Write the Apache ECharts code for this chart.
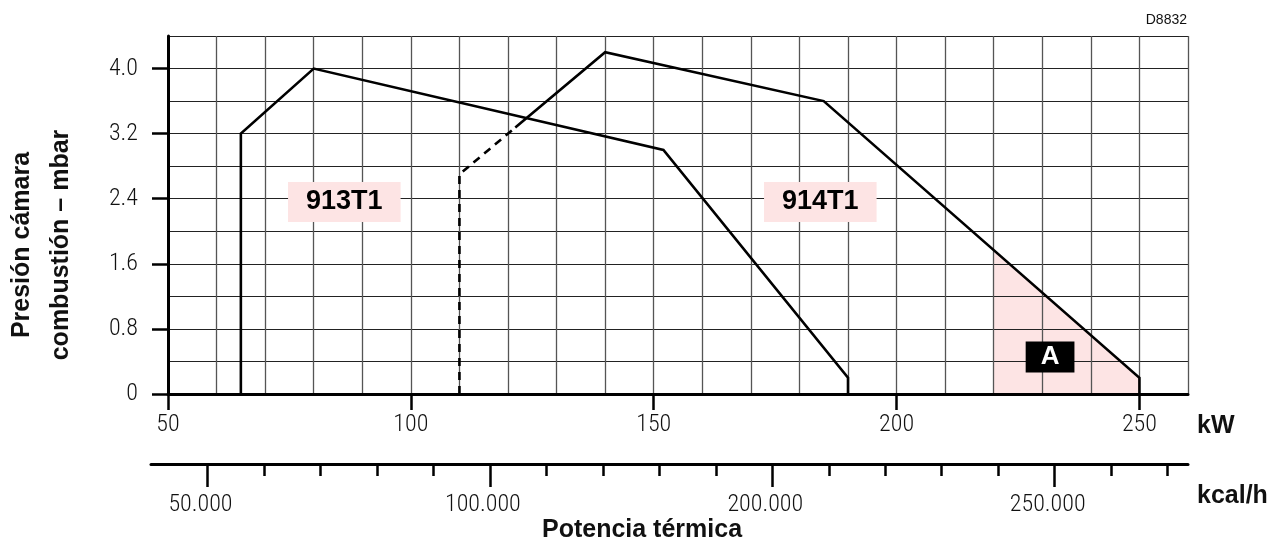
<!DOCTYPE html>
<html><head><meta charset="utf-8">
<script src="https://cdn.jsdelivr.net/npm/echarts@6/dist/echarts.min.js"></script>
<style>html,body{margin:0;padding:0;background:#fff}#c{width:1275px;height:544px}</style>
</head><body><div id="c"></div>
<script>
// ---- data ----
const kwTicks = [50, 100, 150, 200, 250];
const mbarTicks = [0, 0.8, 1.6, 2.4, 3.2, 4.0];
const kcalMajor = [50000, 100000, 150000, 200000];
const kcalMajorLabels = ['50.000', '100.000', '200.000', '250.000'];
const kcalMinor = [60000, 70000, 80000, 90000, 110000, 120000, 130000, 140000, 160000, 170000, 180000, 190000, 210000, 220000];
const curve913 = [[65, 0], [65, 3.2], [80, 4.0], [152, 3.0], [190, 0.2], [190, 0]];
const curve914Dashed = [[110, 0], [110, 2.7], [121.5, 3.275]];
const curve914 = [[121.5, 3.275], [140, 4.2], [185, 3.6], [250, 0.2], [250, 0]];
const regionA = [[220, 1.77], [250, 0.2]];
const modelLabels = [['913T1', 86.3, 2.36], ['914T1', 184.3, 2.36]];
const regionLabel = [['A', 231.6, 0.455]];

const NARROW = "'Roboto Condensed', 'DejaVu Sans Condensed', sans-serif";
const SANS = "'Liberation Sans', Arial, sans-serif";

const chart = echarts.init(document.getElementById('c'), null, {renderer: 'canvas'});
chart.setOption({
  animation: false,
  backgroundColor: '#fff',
  grid: [
    {left: 168, right: 87, top: 36, bottom: 150},
    {left: 151, right: 87, top: 440, bottom: 80}
  ],
  xAxis: [
    {gridIndex: 0, type: 'value', position: 'bottom', offset: 0, min: 50, max: 260, interval: 10,
     axisLine: {show: true, onZero: false, lineStyle: {color: '#000', width: 3}},
     axisTick: {show: false}, axisLabel: {show: false},
     splitLine: {show: true, lineStyle: {color: '#555', width: 1.3}}},
    {gridIndex: 0, type: 'value', position: 'bottom', offset: 0, min: 50, max: 260,
     axisLine: {show: false, onZero: false},
     axisTick: {show: true, customValues: kwTicks, length: 16, lineStyle: {color: '#000', width: 2.5}},
     axisLabel: {show: true, customValues: kwTicks, margin: 19, fontFamily: NARROW, fontWeight: 300, fontSize: 24, color: '#111'},
     splitLine: {show: false}},
    {gridIndex: 1, type: 'value', position: 'bottom', offset: 0, min: 40000, max: 223600,
     axisLine: {show: true, onZero: false, lineStyle: {color: '#000', width: 3}},
     axisTick: {show: true, customValues: kcalMinor, length: 12, lineStyle: {color: '#000', width: 2.5}},
     axisLabel: {show: false}, splitLine: {show: false}},
    {gridIndex: 1, type: 'value', position: 'bottom', offset: 0, min: 40000, max: 223600,
     axisLine: {show: false, onZero: false},
     axisTick: {show: true, customValues: kcalMajor, length: 23, lineStyle: {color: '#000', width: 2.5}},
     axisLabel: {show: true, customValues: kcalMajor, margin: 29, padding: [0, 14, 0, 0],
       fontFamily: NARROW, fontWeight: 300, fontSize: 24, color: '#111',
       formatter: v => kcalMajorLabels[kcalMajor.indexOf(v)] || ''},
     splitLine: {show: false}}
  ],
  yAxis: [
    {gridIndex: 0, type: 'value', position: 'left', offset: 0, min: 0, max: 4.4, interval: 0.4,
     axisLine: {show: true, onZero: false, lineStyle: {color: '#000', width: 3}},
     axisTick: {show: false}, axisLabel: {show: false},
     splitLine: {show: true, lineStyle: {color: '#222', width: 1.1}}},
    {gridIndex: 0, type: 'value', position: 'left', offset: 0, min: 0, max: 4.4,
     axisLine: {show: false, onZero: false},
     axisTick: {show: true, customValues: mbarTicks, length: 16, lineStyle: {color: '#000', width: 2.5}},
     axisLabel: {show: true, customValues: mbarTicks, margin: 30, fontFamily: NARROW, fontWeight: 300, fontSize: 24, color: '#111',
       formatter: v => v === 0 ? '0' : v.toFixed(1)},
     splitLine: {show: false}},
    {gridIndex: 1, type: 'value', show: false, min: 0, max: 1}
  ],
  series: [
    {type: 'line', name: 'A-area', xAxisIndex: 0, yAxisIndex: 0, data: regionA, z: -1,
     symbol: 'none', lineStyle: {width: 0}, areaStyle: {color: '#fde4e4', opacity: 1}, silent: true},
    {type: 'line', name: '913T1', xAxisIndex: 0, yAxisIndex: 0, data: curve913,
     symbol: 'none', lineStyle: {color: '#000', width: 2.6, join: 'miter'}},
    {type: 'line', name: '914T1-dashed', xAxisIndex: 0, yAxisIndex: 0, data: curve914Dashed,
     symbol: 'none', lineStyle: {color: '#000', width: 2.6, type: [8, 6]}},
    {type: 'line', name: '914T1', xAxisIndex: 0, yAxisIndex: 0, data: curve914,
     symbol: 'none', lineStyle: {color: '#000', width: 2.6, join: 'miter'}},
    {type: 'scatter', name: 'labels', xAxisIndex: 0, yAxisIndex: 0, z: 5,
     data: modelLabels.map(d => ({value: [d[1], d[2]], name: d[0]})),
     symbolSize: 0, itemStyle: {opacity: 1},
     label: {show: true, position: 'inside', formatter: p => p.name,
       fontFamily: SANS, fontWeight: 'bold', fontSize: 27, color: '#000', lineHeight: 28,
       backgroundColor: '#fde4e4', padding: [6, 18, 6, 18]}},
    {type: 'scatter', name: 'regionLabel', xAxisIndex: 0, yAxisIndex: 0, z: 5,
     data: regionLabel.map(d => ({value: [d[1], d[2]], name: d[0]})),
     symbolSize: 0, itemStyle: {opacity: 1},
     label: {show: true, position: 'inside', formatter: p => p.name,
       fontFamily: SANS, fontWeight: 'bold', fontSize: 26, color: '#fff', lineHeight: 25,
       backgroundColor: '#000', padding: [3, 15, 3, 15]}}
  ],
  graphic: [
    {type: 'text', x: 1187, y: 13,
     style: {text: 'D8832', font: '14px ' + SANS, fill: '#111', textAlign: 'right', textVerticalAlign: 'top'}},
    {type: 'text', x: 1197, y: 414,
     style: {text: 'kW', font: 'bold 25px ' + SANS, fill: '#111', textAlign: 'left', textVerticalAlign: 'top'}},
    {type: 'text', x: 1197, y: 484,
     style: {text: 'kcal/h', font: 'bold 25px ' + SANS, fill: '#111', textAlign: 'left', textVerticalAlign: 'top'}},
    {type: 'text', x: 642, y: 518,
     style: {text: 'Potencia térmica', font: 'bold 25px ' + SANS, fill: '#111', textAlign: 'center', textVerticalAlign: 'top'}},
    {type: 'text', x: 42, y: 245, rotation: Math.PI / 2,
     style: {text: 'Presión cámara\ncombustión – mbar', font: 'bold 25px ' + SANS, fill: '#111',
       textAlign: 'center', textVerticalAlign: 'middle', lineHeight: 39}}
  ]
});
</script>
</body></html>
